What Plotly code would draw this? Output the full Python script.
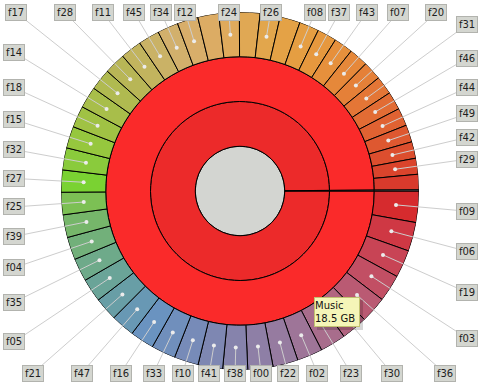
import math
import plotly.graph_objects as go

# ---------------- data ----------------
folder_name = "Music"
other_name = "other"
other_gb = 0.02
# files of the folder, in drawing order (largest first, clockwise from 3 o'clock)
file_names = ["f09", "f06", "f19", "f03", "f36", "f30", "f23", "f02", "f22", "f00",
              "f38", "f41", "f10", "f33", "f16", "f47", "f21", "f05", "f35", "f04",
              "f39", "f25", "f27", "f32", "f15", "f18", "f14", "f17", "f28", "f11",
              "f45", "f34", "f12", "f01", "f24", "f13", "f26", "f40", "f08", "f37",
              "f43", "f07", "f20", "f31", "f46", "f44", "f49", "f42", "f29", "f48"]
file_sizes_gb = [0.524, 0.483, 0.463, 0.452, 0.442, 0.437, 0.432, 0.427, 0.421, 0.421,
                 0.416, 0.411, 0.406, 0.406, 0.401, 0.396, 0.391, 0.391, 0.385, 0.380,
                 0.380, 0.375, 0.370, 0.370, 0.365, 0.360, 0.360, 0.360, 0.355, 0.355,
                 0.355, 0.349, 0.349, 0.349, 0.344, 0.344, 0.334, 0.339, 0.329, 0.324,
                 0.319, 0.319, 0.313, 0.308, 0.303, 0.298, 0.288, 0.278, 0.267, 0.257]
hidden_labels = ["f01", "f13", "f40", "f48"]

# ---------------- styles ----------------
file_colors = ["#d62b2e", "#cf3844", "#c84455", "#c24f64", "#ba5a73", "#b26480", "#a86d8c",
               "#9e7598", "#967ba0", "#8e7fa6", "#8683ac", "#7e87b2", "#778bb8", "#708fbc",
               "#6a93c0", "#6898b4", "#689ea6", "#6aa498", "#6eaa8a", "#72b07a", "#76b66a",
               "#7cc054", "#7ad232", "#8acb3c", "#96c73e", "#a0c244", "#a8be4a", "#b0ba50",
               "#b8b656", "#c2b45e", "#cab266", "#d2b06c", "#d8ae6a", "#dcac64", "#dfaa5c",
               "#e0a854", "#e2a64c", "#e4a246", "#e59e42", "#e6983e", "#e6903c", "#e6883a",
               "#e58038", "#e47636", "#e26c34", "#e06232", "#de5830", "#dc4e2e", "#da442c",
               "#d83a2c"]
center_color = "#d3d5d1"
inner_color = "#ec2a2a"
folder_color = "#fa2a2a"
other_color = "#888888"
label_bg = "#d4d6d0"
label_border = "#b2b3ae"
leader_color = "#cdcdcd"
dot_color = "#ececec"

W, H = 479, 383
CX, CY, R_OUT = 240, 191, 179          # pixel centre / outer radius of the rings
N_RINGS = 4                            # radial units: centre, inner, folder, files
PX_PER_UNIT = R_OUT / N_RINGS
LX0, LX1, LY0, LY1 = 14, 467, 12.5, 373  # rectangle on which label centres sit
DOT_R = 3.5
hover_theta, hover_r = 55.1, 2.89      # where the tooltip is anchored

# ---------------- derived angles ----------------
folder_total = sum(file_sizes_gb)
grand_total = folder_total + other_gb
deg_per_gb = 360.0 / grand_total
thetas, widths = [], []
acc = 0.0
for s in file_sizes_gb:
    thetas.append((acc + s / 2) * deg_per_gb)
    widths.append(s * deg_per_gb)
    acc += s
folder_w = folder_total * deg_per_gb
other_w = other_gb * deg_per_gb
folder_theta = folder_w / 2
other_theta = folder_w + other_w / 2

fig = go.Figure()
black_line = dict(color="black", width=1)

# centre disk
fig.add_trace(go.Barpolar(r=[1], base=[0], theta=[180], width=[360],
                          marker=dict(color=center_color, line=black_line),
                          hoverinfo="skip", showlegend=False))
# inner ring (parent) and folder ring
for base, col in [(1, inner_color), (2, folder_color)]:
    fig.add_trace(go.Barpolar(r=[1, 1], base=[base, base],
                              theta=[folder_theta, other_theta], width=[folder_w, other_w],
                              marker=dict(color=[col, other_color], line=black_line),
                              hoverinfo="skip", showlegend=False))
# file ring
fig.add_trace(go.Barpolar(r=[1] * len(file_sizes_gb) + [1], base=[3] * (len(file_sizes_gb) + 1),
                          theta=thetas + [other_theta], width=widths + [other_w],
                          marker=dict(color=file_colors + [other_color], line=black_line),
                          hoverinfo="skip", showlegend=False))

shown = [i for i, n in enumerate(file_names) if n not in hidden_labels]

# leader lines inside the ring + dots
lr, lt = [], []
for i in shown:
    lr += [DOT_R, N_RINGS, None]
    lt += [thetas[i], thetas[i], None]
fig.add_trace(go.Scatterpolar(r=lr, theta=lt, mode="lines",
                              line=dict(color=leader_color, width=1),
                              hoverinfo="skip", showlegend=False))
fig.add_trace(go.Scatterpolar(r=[DOT_R] * len(shown), theta=[thetas[i] for i in shown],
                              mode="markers", marker=dict(size=4, color=dot_color),
                              hoverinfo="skip", showlegend=False))


def label_pos(theta_deg):
    a = math.radians(theta_deg)
    ux, uy = math.cos(a), math.sin(a)
    ts = []
    if ux > 1e-9:
        ts.append((LX1 - CX) / ux)
    elif ux < -1e-9:
        ts.append((LX0 - CX) / ux)
    if uy > 1e-9:
        ts.append((LY1 - CY) / uy)
    elif uy < -1e-9:
        ts.append((LY0 - CY) / uy)
    t = min(ts)
    return CX + t * ux, CY + t * uy


# leader lines outside the ring (pixel space overlay)
ox, oy = [], []
annotations = []
for i in shown:
    a = math.radians(thetas[i])
    lx, ly = label_pos(thetas[i])
    ox += [CX + R_OUT * math.cos(a), lx, None]
    oy += [CY + R_OUT * math.sin(a), ly, None]
    annotations.append(dict(x=lx, y=ly, xref="x", yref="y", text=file_names[i],
                            showarrow=False, bgcolor=label_bg, bordercolor=label_border,
                            borderwidth=1, borderpad=0, width=20, height=15,
                            font=dict(family="DejaVu Sans", size=10, color="#1e1e1e")))
fig.add_trace(go.Scatter(x=ox, y=oy, mode="lines", line=dict(color=leader_color, width=1),
                         hoverinfo="skip", showlegend=False))

# tooltip
ha = math.radians(hover_theta)
tx = CX + hover_r * PX_PER_UNIT * math.cos(ha)
ty = CY + hover_r * PX_PER_UNIT * math.sin(ha)
tip_text = f"{folder_name}<br>{folder_total:.1f} GB"
annotations.append(dict(x=tx + 3, y=ty + 3, xref="x", yref="y", text=" ",
                        xanchor="left", yanchor="top", showarrow=False,
                        bgcolor="rgba(0,0,0,0.16)", borderwidth=0, borderpad=1,
                        width=44, height=28,
                        font=dict(family="DejaVu Sans", size=10)))
annotations.append(dict(x=tx, y=ty, xref="x", yref="y", text=tip_text,
                        xanchor="left", yanchor="top", showarrow=False, align="left",
                        bgcolor="#f5f5b8", bordercolor="#c2c272", borderwidth=1, borderpad=0,
                        width=44, height=28,
                        font=dict(family="DejaVu Sans", size=10, color="#111111")))

fig.update_layout(
    width=W, height=H, margin=dict(l=0, r=0, t=0, b=0),
    paper_bgcolor="white", plot_bgcolor="rgba(0,0,0,0)",
    showlegend=False,
    xaxis=dict(range=[0, W], visible=False, domain=[0, 1], fixedrange=True),
    yaxis=dict(range=[H, 0], visible=False, domain=[0, 1], fixedrange=True),
    polar=dict(
        domain=dict(x=[(CX - R_OUT) / W, (CX + R_OUT) / W],
                    y=[(H - CY - R_OUT) / H, (H - CY + R_OUT) / H]),
        bgcolor="rgba(0,0,0,0)", barmode="overlay",
        radialaxis=dict(range=[0, N_RINGS], visible=False),
        angularaxis=dict(direction="clockwise", rotation=0, visible=False),
    ),
    annotations=annotations,
)

fig.write_html("out.html", config={"displayModeBar": False, "staticPlot": True},
               post_script="document.body.style.margin='0';document.body.style.overflow='hidden';")
